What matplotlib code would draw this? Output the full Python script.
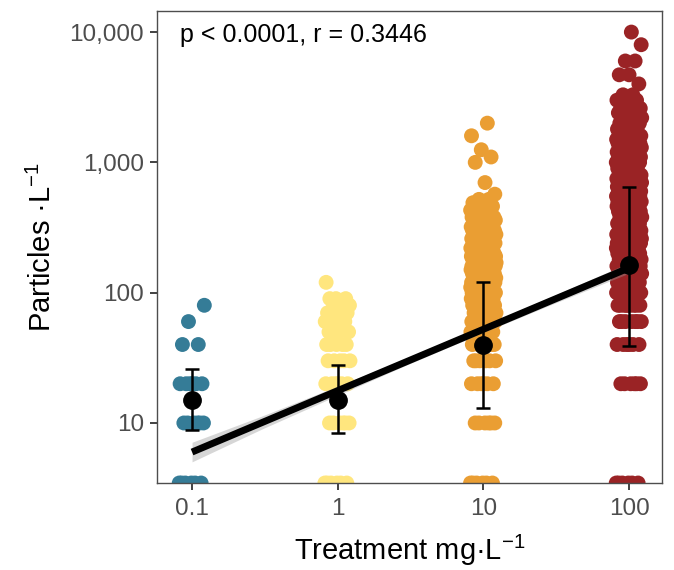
import numpy as np
import matplotlib
matplotlib.use("Agg")
import matplotlib.pyplot as plt
from matplotlib.ticker import NullLocator

plt.rcParams['font.family'] = ['Liberation Sans', 'DejaVu Sans']
plt.rcParams['mathtext.fontset'] = 'custom'
plt.rcParams['mathtext.rm'] = 'Liberation Sans'
plt.rcParams['mathtext.it'] = 'Liberation Sans:italic'

# treatment groups (mg/L)
treatments = [0.1, 1, 10, 100]
colors = ['#357C97', '#FFE67E', '#EA9E33', '#9A2325']

# particle counts per group, as value levels and how many samples sit on each
vals_01 = [0, 10, 20, 40, 60, 80]
cnt_01 = [6, 6, 6, 2, 1, 1]

vals_1 = [0, 10, 20, 30, 40, 50, 60, 70, 80, 90, 120]
cnt_1 = [6, 6, 6, 5, 5, 4, 5, 4, 3, 3, 1]

vals_10 = [0, 10, 20, 30, 40, 50, 60, 70, 80, 90, 100, 110, 120, 130, 140, 150,
           160, 170, 180, 190, 200, 220, 240, 260, 280, 300, 320, 340, 360, 380,
           400, 430, 460, 490, 520, 570, 700, 1000, 1100, 1250, 1600, 2000]
cnt_10 = [6, 6, 6, 6, 7, 9, 9, 9, 9, 9, 9, 9, 9, 9, 9, 9,
          9, 9, 9, 9, 9, 7, 7, 7, 7, 7, 5, 5, 5, 4,
          4, 2, 2, 2, 2, 1, 1, 1, 1, 1, 1, 1]

vals_100 = [0, 20, 40, 60, 80, 100, 120, 140, 160, 180, 200, 220, 240, 260, 280,
            300, 340, 380, 420, 460, 500, 550, 600, 650, 700, 750, 800, 900, 1000,
            1100, 1200, 1300, 1400, 1500, 1600, 1800, 2000, 2200, 2400, 2600, 3000,
            3300, 4000, 4700, 6000, 8000, 10000]
cnt_100 = [6, 6, 6, 7, 9, 9, 9, 9, 9, 9, 9, 9, 9, 9, 9,
           9, 8, 8, 8, 8, 8, 8, 8, 8, 8, 8, 8, 7, 7,
           7, 7, 7, 7, 7, 7, 5, 5, 4, 4, 4, 3,
           2, 1, 2, 2, 1, 1]

groups = [(vals_01, cnt_01), (vals_1, cnt_1), (vals_10, cnt_10), (vals_100, cnt_100)]

# summary: mean and error bar ends per group
mean_y = [15, 15, 40, 162]
err_lo = [8.8, 8.4, 13, 39]
err_hi = [26, 28, 121, 650]

# regression fit and its confidence band
fit_x = [0.1, 100]
fit_y = [5.98, 155]
band_x = [0.1, 0.3, 1, 3, 10, 30, 100]
band_lo = [5.03, 8.96, 16.3, 28.0, 49.5, 82.0, 141]
band_hi = [7.11, 11.28, 19.2, 31.5, 55.5, 94.2, 170]

x_ticks = [0.1, 1, 10, 100]
x_labels = ['0.1', '1', '10', '100']
y_ticks = [10, 100, 1000, 10000]
y_labels = ['10', '100', '1,000', '10,000']

ymin, ymax = 3.46, 14500
xmin, xmax = 0.0575, 168

fig = plt.figure(figsize=(6.74, 5.70), dpi=100)
ax = fig.add_axes([0.233, 0.1526, 0.749, 0.828])
ax.set_xscale('log')
ax.set_yscale('log')

phi = 0.6180339887
for t, (vals, cnts), c in zip(treatments, groups, colors):
    y = np.repeat(vals, cnts).astype(float)
    y[y == 0] = ymin  # zeros sit on the panel edge
    idx = np.arange(len(y))
    jit = 0.088 * (2 * ((idx * phi) % 1.0) - 1)
    x = t * 10 ** jit
    ax.scatter(x, y, s=115, color=c, edgecolors='none', zorder=2)

ax.fill_between(band_x, band_lo, band_hi, color='#999999', alpha=0.4,
                linewidth=0, zorder=3)

yerr = [np.array(mean_y) - np.array(err_lo), np.array(err_hi) - np.array(mean_y)]
ax.errorbar(treatments, mean_y, yerr=yerr, fmt='o', color='black', ms=12.5,
            elinewidth=1.8, capsize=5, capthick=1.8, zorder=4)

ax.plot(fit_x, fit_y, color='black', lw=5, solid_capstyle='butt', zorder=5)

ax.set_xlim(xmin, xmax)
ax.set_ylim(ymin, ymax)
ax.set_xticks(x_ticks)
ax.set_xticklabels(x_labels)
ax.set_yticks(y_ticks)
ax.set_yticklabels(y_labels)
ax.xaxis.set_minor_locator(NullLocator())
ax.yaxis.set_minor_locator(NullLocator())
ax.tick_params(axis='both', which='major', length=5, width=1.3, color='#333333',
               labelcolor='#4D4D4D', labelsize=17.5)
ax.tick_params(axis='x', pad=6)
ax.tick_params(axis='y', pad=4.3)
for sp in ax.spines.values():
    sp.set_color('#4D4D4D')
    sp.set_linewidth(1)

ax.set_xlabel('Treatment mg·L$^{-1}$', fontsize=21, labelpad=9)
ax.set_ylabel('Particles ·L$^{-1}$', fontsize=21, labelpad=9)

ax.text(0.046, 0.949, 'p < 0.0001, r = 0.3446', transform=ax.transAxes,
        fontsize=18, va='center', ha='left', color='black')

fig.savefig('out.png', dpi=100)
